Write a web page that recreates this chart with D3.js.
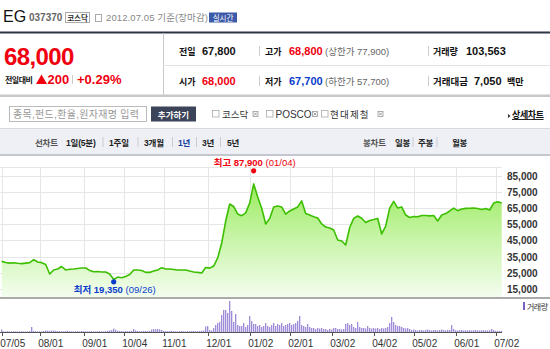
<!DOCTYPE html>
<html><head><meta charset="utf-8">
<script src="https://cdn.jsdelivr.net/npm/d3@7/dist/d3.min.js"></script>
<style>
body{margin:0;overflow:hidden;background:#fff}
svg{display:block}
text{font-family:'Liberation Sans','Noto Sans CJK KR',sans-serif}
</style>
</head><body>
<svg id="c" width="550" height="349"></svg>
<script>
// ---------- data ----------
const tickLabels = ["07/05","08/01","09/01","10/04","11/01","12/01","01/02","02/01","03/02","04/02","05/02","06/01","07/02"];
const tickDays   = [0,19,41,61,81,103,124,144,165,186,206,227,247]; // trading-day index
const priceTicks = [85000,75000,65000,55000,45000,35000,25000,15000];
const priceStep = 2; // one close price every 2 trading days
const closePrices = [
 32000,31300,30900,31100,30800,30600,30900,31200,33100,31600,
 31200,30100,24200,26700,27300,28800,26700,27100,27300,27600,
 27900,27900,26400,25600,25700,25400,25400,24200,20800,22300,
 21900,22700,23900,26700,26700,26400,25200,25200,26000,26700,
 28100,27300,27300,27000,26700,26700,26700,26000,25400,25200,
 24800,28200,27800,29100,34100,43300,56900,67400,65900,61200,
 60200,61900,68000,79800,71700,64800,55100,58500,65600,66200,
 65600,61200,63100,64300,65600,69300,61500,60600,59600,58800,
 55100,53200,52600,51400,45200,44600,42100,52900,58500,60000,
 58600,56000,57200,57800,58500,48900,53800,64900,69000,64900,
 65600,60600,59100,59700,59500,60300,60300,60100,60300,56900,
 60600,61500,63100,64900,63300,64300,64700,64800,64900,64600,
 64000,64600,63700,68000,68800,68000
];
// daily volume, thousand shares
const volumes = [
 250,60,50,70,60,50,80,60,50,60,70,60,50,60,80,
 500,
 120,80,60,70,60,90,
 150,130,120,140,150,110,100,
 90,80,70,100,120,80,70,60,90,80,70,100,
 80,70,60,90,80,70,60,80,90,70,60,80,120,150,180,
 330,220,
 120,100,80,70,90,80,100,120,
 300,160,
 100,90,80,110,100,90,120,
 250,300,280,310,260,200,
 100,90,80,100,120,90,80,70,90,100,80,70,90,80,100,110,90,80,100,120,150,
 550,600,200,150,
 400,700,900,1000,1700,2200,2200,1900,3100,2100,1000,1800,700,600,600,900,500,700,1600,1100,800,800,600,700,500,600,900,600,500,700,900,
 600,800,700,900,600,700,800,900,700,800,900,
 1100,1600,700,600,500,800,500,
 400,400,300,400,350,400,300,300,200,300,250,
 400,400,300,300,250,300,
 800,900,700,800,500,400,1000,500,
 400,400,350,600,400,350,
 400,350,400,300,400,350,400,500,
 900,1500,1000,700,600,600,500,400,350,400,300,
 200,250,200,150,200,200,150,200,250,200,150,200,200,150,200,250,200,150,200,200,
 700,300,
 170,150,180,200,150,170,160,180,150,170,200,160,150,170,180,150,160,170,
 300,200,
 120,100,110,104
];
const highMark = {day:126, price:87900, text:"87,900", date:"(01/04)"};
const lowMark  = {day:56,  price:19350, text:"19,350", date:"(09/26)"};

// ---------- drawing ----------
const svg = d3.select("#c");
const RED="#f0000f", BLUE="#0a3ccc";

function t(x,y,s,opt={}){
  const e = svg.append("text").attr("x",x).attr("y",y).text(s)
    .attr("font-size",opt.size||11).attr("fill",opt.fill||"#111")
    .attr("font-weight",opt.bold?"bold":"normal");
  if(opt.anchor) e.attr("text-anchor",opt.anchor);
  if(opt.ls!=null) e.attr("letter-spacing",opt.ls);
  if(opt.deco) e.attr("text-decoration",opt.deco);
  return e;
}
function line(x1,y1,x2,y2,c,w=1){svg.append("line").attr("x1",x1).attr("y1",y1).attr("x2",x2).attr("y2",y2).attr("stroke",c).attr("stroke-width",w);}
function xbox(x,y){
  svg.append("rect").attr("x",x+.5).attr("y",y+.5).attr("width",5).attr("height",5).attr("fill","#fff").attr("stroke","#999").attr("stroke-width",.8);
  line(x+1.5,y+1.5,x+4.5,y+4.5,"#888",.8); line(x+4.5,y+1.5,x+1.5,y+4.5,"#888",.8);
}
function cbox(x,y){svg.append("rect").attr("x",x+.5).attr("y",y+.5).attr("width",6.5).attr("height",6.5).attr("fill","#fff").attr("stroke","#aaa").attr("stroke-width",.8);}

// header
t(3,22,"EG",{size:16,fill:"#111"});
t(29,21,"037370",{size:10,bold:true,fill:"#666"});
svg.append("rect").attr("x",65.5).attr("y",12.5).attr("width",24).attr("height",10).attr("fill","#fff").attr("stroke","#aaa");
t(77.5,20.5,"코스닥",{size:7.5,fill:"#333",anchor:"middle",bold:true});
svg.append("rect").attr("x",95.5).attr("y",14.5).attr("width",6).attr("height",7).attr("fill","#fff").attr("stroke","#aaa");
t(106,21,"2012.07.05 기준(장마감)",{size:9.5,fill:"#888",ls:0.1});
svg.append("rect").attr("x",209).attr("y",12.5).attr("width",28).attr("height",10).attr("fill","#3d5aa8");
t(223,20.5,"실시간",{size:7.5,fill:"#fff",anchor:"middle"});
line(0,32.5,550,32.5,"#2d3444",2);

// price block
t(4,65,"68,000",{size:24,bold:true,fill:RED,ls:-0.6});
t(5,83,"전일대비",{size:8,bold:true,fill:"#111",ls:-0.5});
svg.append("path").attr("d","M36,84 L41.5,74.5 L47,84 Z").attr("fill",RED);
t(47.5,84,"200",{size:13,bold:true,fill:RED});
line(72.5,75,72.5,84,"#ccc");
t(77,84,"+0.29%",{size:13,bold:true,fill:RED});
line(163.5,33,163.5,95,"#c8c8c8");
line(163,65.5,550,65.5,"#e2e2e2");
const r1=55, r2=85;
t(179,r1,"전일",{size:9,bold:true}); t(202,r1,"67,800",{size:11,bold:true});
t(179,r2,"시가",{size:9,bold:true}); t(202,r2,"68,000",{size:11,bold:true,fill:RED});
line(259.5,46,259.5,56,"#ccc"); line(259.5,76,259.5,86,"#ccc");
t(265,r1,"고가",{size:9,bold:true}); t(289,r1,"68,800",{size:11,bold:true,fill:RED});
t(325,r1,"(상한가 77,900)",{size:9.5,fill:"#666"});
t(265,r2,"저가",{size:9,bold:true}); t(289,r2,"67,700",{size:11,bold:true,fill:BLUE});
t(325,r2,"(하한가 57,700)",{size:9.5,fill:"#666"});
line(428.5,46,428.5,56,"#ccc"); line(428.5,76,428.5,86,"#ccc");
t(433,r1,"거래량",{size:9,bold:true}); t(466,r1,"103,563",{size:11,bold:true});
t(433,r2,"거래대금",{size:9.5,bold:true}); t(474,r2,"7,050",{size:11,bold:true}); t(507,r2,"백만",{size:9,bold:true});
svg.append("rect").attr("x",0).attr("y",94.5).attr("width",550).attr("height",2.5).attr("fill","#c8c8c8");

// search row
svg.append("rect").attr("x",9.5).attr("y",106.5).attr("width",137).attr("height",15).attr("fill","#fff").attr("stroke","#bbb");
t(13,117.5,"종목,펀드,환율,원자재명 입력",{size:10,fill:"#999",ls:0.3});
svg.append("rect").attr("x",151).attr("y",106.5).attr("width",45).attr("height",15).attr("fill","#3b4459");
t(173.5,117.5,"추가하기",{size:8.5,bold:true,fill:"#fff",anchor:"middle"});
cbox(212,110); t(222,117.5,"코스닥",{size:9.5,fill:"#333"}); xbox(252.5,111);
cbox(266,110); t(275.5,117.5,"POSCO",{size:10,fill:"#333"}); xbox(312,111);
cbox(321,110); t(330,117.5,"현대제철",{size:9.5,fill:"#333",ls:1.2}); xbox(377.5,111);
svg.append("path").attr("d","M508,114 L510.5,116 L508,118 Z").attr("fill","#333");
t(512,118,"상세차트",{size:9,bold:true,deco:"underline",ls:-0.4});

// tab bar
svg.append("rect").attr("x",0).attr("y",128.5).attr("width",550).attr("height",26).attr("fill","#eef0f6");
line(0,128.5,550,128.5,"#d6d9e2");
line(0,155,550,155,"#c4c7cf",2);
const ty=145.5;
const tabOpt = (fill)=>({size:8.5,bold:true,fill,ls:-0.2});
t(35,ty,"선차트",tabOpt("#555"));
t(66,ty,"1일(5분)",tabOpt("#222"));
t(109,ty,"1주일",tabOpt("#222"));
t(144,ty,"3개월",tabOpt("#222"));
t(178,ty,"1년",tabOpt("#1a3fa0"));
t(202,ty,"3년",tabOpt("#222"));
t(227,ty,"5년",tabOpt("#222"));
[103,138,172.5,196.5,220.5,413,437].forEach(x=>line(x,137,x,147,"#c8cbd3"));
t(363,ty,"봉차트",tabOpt("#555"));
t(395,ty,"일봉",tabOpt("#222"));
t(418,ty,"주봉",tabOpt("#222"));
t(452,ty,"월봉",tabOpt("#222"));

// chart scales
const x = d3.scaleLinear().domain([0,250]).range([1.7,501.7]);
const y = d3.scaleLinear().domain([10000,90000]).range([297,167.4]);
const vy = d3.scaleLinear().domain([0,3100]).range([332,301]);

// grid
const g = svg.append("g");
g.selectAll("line.h").data([90000,...priceTicks]).join("line")
  .attr("x1",0).attr("x2",502).attr("y1",d=>Math.round(y(d))+.5).attr("y2",d=>Math.round(y(d))+.5)
  .attr("stroke","#e6e6e6");
g.selectAll("line.v").data(tickDays).join("line")
  .attr("x1",d=>Math.round(x(d))+.5).attr("x2",d=>Math.round(x(d))+.5).attr("y1",167.4).attr("y2",297)
  .attr("stroke","#e6e6e6");

// gradient
const defs = svg.append("defs");
const lg = defs.append("linearGradient").attr("id","gf").attr("gradientUnits","userSpaceOnUse")
  .attr("x1",0).attr("y1",170).attr("x2",0).attr("y2",297);
lg.append("stop").attr("offset",0).attr("stop-color","#8ee84a");
lg.append("stop").attr("offset",0.45).attr("stop-color","#bff39a");
lg.append("stop").attr("offset",1).attr("stop-color","#f4fdef");

const pts = closePrices.map((p,i)=>({d:i*priceStep,p}));
svg.append("path").datum(pts)
  .attr("d",d3.area().x(d=>x(d.d)).y0(297).y1(d=>y(d.p)))
  .attr("fill","url(#gf)");
svg.append("path").datum(pts)
  .attr("d",d3.line().x(d=>x(d.d)).y(d=>y(d.p)))
  .attr("fill","none").attr("stroke","#3cbf00").attr("stroke-width",1.6).attr("stroke-linejoin","round");

// y labels
svg.selectAll("text.yl").data(priceTicks).join("text")
  .attr("x",507).attr("y",d=>y(d)+4).text(d=>d3.format(",")(d))
  .attr("font-size",10).attr("font-weight","bold").attr("fill","#333");

// bottom border of price panel
line(0,298,550,298,"#aaa",2);

// high / low marks
svg.append("circle").attr("cx",x(highMark.day)).attr("cy",y(highMark.price)).attr("r",2.6).attr("fill",RED);
const ht = svg.append("text").attr("x",x(highMark.day)+1).attr("y",166).attr("text-anchor","middle")
  .attr("font-size",9.5).attr("fill",RED);
ht.append("tspan").attr("font-weight","bold").text("최고 "+highMark.text);
ht.append("tspan").text(" "+highMark.date);
svg.append("circle").attr("cx",x(lowMark.day)).attr("cy",y(lowMark.price)).attr("r",2.6).attr("fill",BLUE);
const lt = svg.append("text").attr("x",x(lowMark.day)+1).attr("y",292.5).attr("text-anchor","middle")
  .attr("font-size",9.5).attr("fill",BLUE);
lt.append("tspan").attr("font-weight","bold").text("최저 "+lowMark.text);
lt.append("tspan").text(" "+lowMark.date);

// volume
svg.selectAll("rect.vb").data(volumes).join("rect")
  .attr("x",(d,i)=>x(i)-0.6).attr("width",1.2)
  .attr("y",d=>vy(d)).attr("height",d=>vy(0)-vy(d))
  .attr("fill","#9580d4");
line(0,332.5,502,332.5,"#555");
svg.selectAll("line.tk").data(tickDays).join("line")
  .attr("x1",d=>Math.round(x(d))+.5).attr("x2",d=>Math.round(x(d))+.5).attr("y1",332.5).attr("y2",336)
  .attr("stroke","#555");
svg.selectAll("text.xl").data(tickLabels).join("text")
  .attr("x",(d,i)=>x(tickDays[i])-1.5).attr("y",346.5).text(d=>d)
  .attr("font-size",10).attr("fill","#333");
svg.append("rect").attr("x",523).attr("y",302).attr("width",2).attr("height",8).attr("fill","#7a5fc4");
t(527,309.5,"거래량",{size:8,fill:"#333",ls:-0.5});
</script>
</body></html>
